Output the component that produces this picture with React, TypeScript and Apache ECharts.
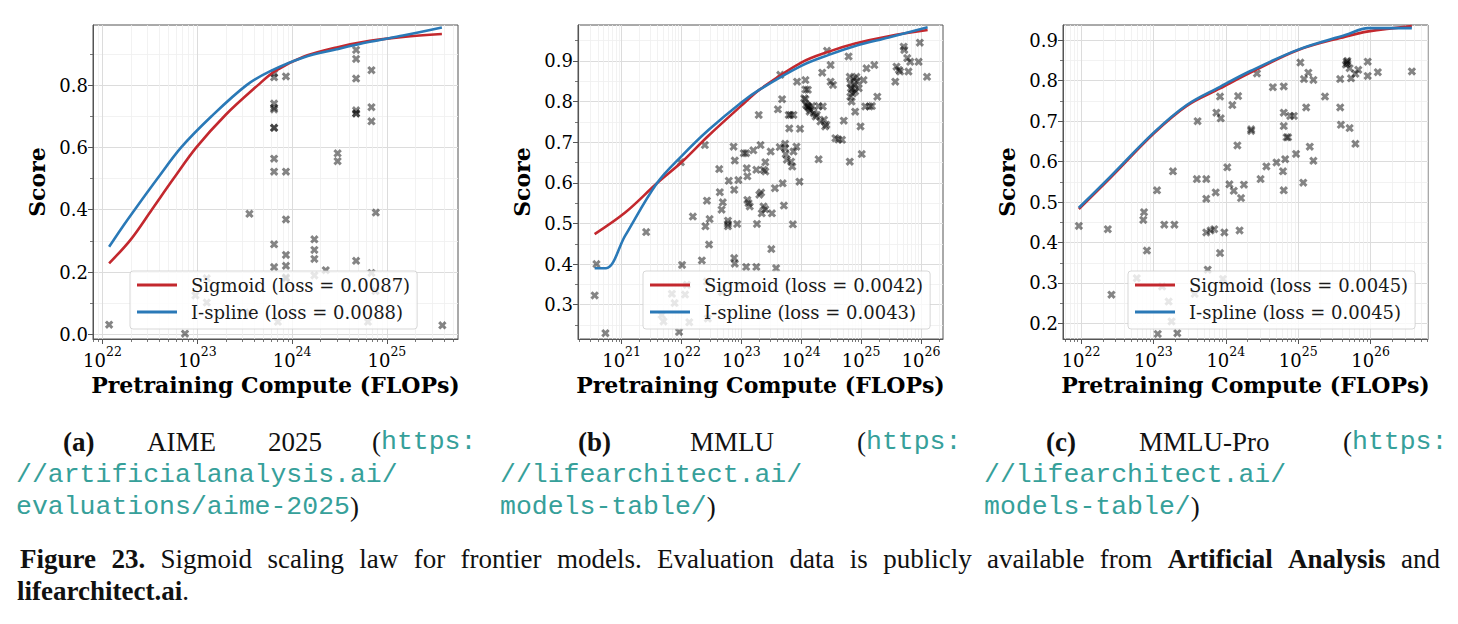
import { useEffect, useRef } from "react";
import * as echarts from "echarts";

type Pt = [number, number];

// Each pair is [log10 of pretraining compute in FLOPs, benchmark score].
const aimePoints: Pt[] = [
  [22.07, 0.031], [22.87, 0.002], [22.98, 0.125], [23.1, 0.18], [23.1, 0.102], [23.55, 0.387], [23.55, 0.07],
  [23.81, 0.838], [23.81, 0.825], [23.81, 0.741], [23.81, 0.727], [23.81, 0.722], [23.81, 0.663], [23.81, 0.663],
  [23.81, 0.564], [23.81, 0.522], [23.81, 0.289], [23.81, 0.216], [23.85, 0.04],
  [23.935, 0.828], [23.935, 0.522], [23.935, 0.369], [23.935, 0.255], [23.935, 0.22], [23.935, 0.183], [23.935, 0.18],
  [24.235, 0.305], [24.235, 0.271], [24.235, 0.242], [24.235, 0.189], [24.355, 0.206],
  [24.48, 0.581], [24.48, 0.556],
  [24.675, 0.913], [24.675, 0.884], [24.675, 0.821], [24.675, 0.719], [24.675, 0.709], [24.675, 0.709], [24.675, 0.236],
  [24.8, 0.04], [24.837, 0.848], [24.837, 0.729], [24.837, 0.684], [24.837, 0.197],
  [24.883, 0.391], [24.88, 0.139], [25.585, 0.029],
];
const aimeSigmoidFit: Pt[] = [
  [22.07, 0.228], [22.3, 0.305], [22.52, 0.4], [22.75, 0.5], [22.99, 0.6], [23.3, 0.705], [23.64, 0.8],
  [23.82, 0.845], [24.12, 0.891], [24.47, 0.921], [24.82, 0.942], [25.17, 0.955], [25.58, 0.964],
];
const aimeISplineFit: Pt[] = [
  [22.07, 0.281], [22.2, 0.34], [22.34, 0.4], [22.58, 0.5], [22.83, 0.6], [23.15, 0.7], [23.52, 0.8],
  [23.77, 0.845], [24.12, 0.889], [24.47, 0.915], [24.82, 0.939], [25.17, 0.959], [25.58, 0.985],
];

const mmluPoints: Pt[] = [
  [20.55, 0.323], [20.58, 0.4], [20.73, 0.23], [21.41, 0.479],
  [21.67, 0.275], [21.7, 0.259], [21.84, 0.327], [21.885, 0.304], [21.96, 0.233], [21.99, 0.651], [22.01, 0.398],
  [22.06, 0.325], [22.09, 0.349], [22.13, 0.257],
  [22.19, 0.517], [22.34, 0.409], [22.39, 0.693], [22.4, 0.493], [22.425, 0.556], [22.425, 0.357], [22.44, 0.266],
  [22.46, 0.448], [22.47, 0.511],
  [22.63, 0.634], [22.64, 0.577], [22.67, 0.534], [22.676, 0.331], [22.69, 0.552],
  [22.776, 0.507], [22.776, 0.499], [22.776, 0.493], [22.79, 0.605],
  [22.87, 0.689], [22.88, 0.583], [22.88, 0.415], [22.89, 0.655], [22.89, 0.401], [22.93, 0.499], [22.95, 0.607],
  [23.04, 0.673], [23.08, 0.673], [23.08, 0.393], [23.09, 0.636], [23.1, 0.616], [23.1, 0.558], [23.12, 0.55], [23.14, 0.542],
  [23.2, 0.68], [23.25, 0.632], [23.25, 0.393], [23.26, 0.499], [23.29, 0.767], [23.3, 0.571], [23.32, 0.693],
  [23.33, 0.576], [23.34, 0.525],
  [23.37, 0.632], [23.37, 0.542], [23.4, 0.628], [23.4, 0.651], [23.4, 0.535], [23.49, 0.677], [23.5, 0.437],
  [23.51, 0.525], [23.56, 0.587], [23.58, 0.39],
  [23.61, 0.781], [23.64, 0.688], [23.65, 0.866], [23.68, 0.806], [23.69, 0.599], [23.71, 0.544], [23.73, 0.696],
  [23.73, 0.685], [23.74, 0.671], [23.76, 0.657],
  [23.79, 0.767], [23.8, 0.734], [23.82, 0.767], [23.83, 0.652], [23.85, 0.64], [23.86, 0.498], [23.87, 0.767],
  [23.87, 0.677], [23.92, 0.689], [23.93, 0.849], [23.97, 0.603], [23.98, 0.733],
  [24.05, 0.808], [24.07, 0.853], [24.07, 0.83], [24.07, 0.806], [24.08, 0.792], [24.1, 0.789], [24.11, 0.829],
  [24.12, 0.788], [24.12, 0.785], [24.14, 0.775], [24.15, 0.78], [24.18, 0.789], [24.21, 0.771], [24.24, 0.763],
  [24.26, 0.767], [24.29, 0.789], [24.29, 0.658], [24.32, 0.751], [24.35, 0.871], [24.36, 0.788], [24.38, 0.755],
  [24.4, 0.739], [24.42, 0.743], [24.43, 0.925],
  [24.49, 0.89], [24.49, 0.849], [24.53, 0.841], [24.57, 0.71], [24.62, 0.707], [24.68, 0.706], [24.71, 0.753],
  [24.79, 0.911], [24.81, 0.861], [24.81, 0.652], [24.82, 0.845], [24.82, 0.812], [24.83, 0.833], [24.84, 0.8],
  [24.85, 0.829], [24.86, 0.82], [24.88, 0.857], [24.89, 0.841], [24.9, 0.775], [24.9, 0.825], [24.92, 0.861],
  [24.93, 0.849], [24.96, 0.833], [24.99, 0.739],
  [25.01, 0.671], [25.04, 0.853], [25.07, 0.788], [25.09, 0.882], [25.14, 0.788], [25.18, 0.789], [25.22, 0.89],
  [25.27, 0.812],
  [25.57, 0.849], [25.59, 0.886], [25.63, 0.878], [25.65, 0.874], [25.71, 0.935], [25.72, 0.927], [25.77, 0.907],
  [25.79, 0.874], [25.82, 0.898], [25.96, 0.898], [25.98, 0.945], [26.1, 0.861],
];
const mmluSigmoidFit: Pt[] = [
  [20.55, 0.474], [21.06, 0.527], [21.59, 0.599], [22.01, 0.652], [22.45, 0.716], [23.0, 0.79], [23.31, 0.83],
  [24.0, 0.896], [24.46, 0.923], [24.9, 0.943], [25.46, 0.961], [26.11, 0.976],
];
const mmluISplineFit: Pt[] = [
  [20.55, 0.39], [20.74, 0.39], [21.06, 0.47], [21.59, 0.599], [22.01, 0.667], [22.45, 0.73], [23.0, 0.798],
  [23.31, 0.83], [24.0, 0.888], [24.46, 0.915], [24.9, 0.937], [25.46, 0.958], [26.11, 0.983],
];

const mmluProPoints: Pt[] = [
  [21.97, 0.441], [22.37, 0.433], [22.42, 0.271], [22.77, 0.312], [22.86, 0.456], [22.87, 0.475], [22.91, 0.38],
  [23.05, 0.529], [23.06, 0.174], [23.12, 0.291], [23.15, 0.444], [23.21, 0.254], [23.25, 0.205], [23.27, 0.576],
  [23.29, 0.444], [23.33, 0.176],
  [23.57, 0.273], [23.6, 0.557], [23.61, 0.7], [23.73, 0.557], [23.73, 0.508], [23.73, 0.425], [23.75, 0.333],
  [23.79, 0.43], [23.84, 0.433], [23.86, 0.524], [23.87, 0.721], [23.92, 0.761], [23.92, 0.374], [23.93, 0.707],
  [23.96, 0.31], [23.98, 0.425],
  [24.02, 0.586], [24.05, 0.544], [24.09, 0.74], [24.11, 0.528], [24.16, 0.64], [24.17, 0.762], [24.19, 0.43],
  [24.21, 0.51], [24.25, 0.543], [24.35, 0.68], [24.35, 0.676], [24.43, 0.818], [24.48, 0.557], [24.56, 0.588],
  [24.65, 0.784], [24.7, 0.598],
  [24.79, 0.576], [24.8, 0.786], [24.8, 0.721], [24.8, 0.688], [24.8, 0.529], [24.82, 0.606], [24.84, 0.66],
  [24.86, 0.66], [24.89, 0.713], [24.94, 0.713], [24.97, 0.619],
  [25.03, 0.845], [25.07, 0.548], [25.08, 0.804], [25.11, 0.734], [25.14, 0.82], [25.16, 0.637], [25.21, 0.602],
  [25.21, 0.802], [25.37, 0.761],
  [25.58, 0.804], [25.58, 0.734], [25.59, 0.691], [25.67, 0.847], [25.68, 0.843], [25.66, 0.84], [25.68, 0.849],
  [25.71, 0.831], [25.71, 0.683], [25.73, 0.806], [25.79, 0.644], [25.79, 0.817], [25.83, 0.827], [25.96, 0.847],
  [25.96, 0.812], [26.1, 0.821], [26.57, 0.823],
];
const mmluProSigmoidFit: Pt[] = [
  [21.97, 0.483], [22.405, 0.56], [23.0, 0.669], [23.46, 0.738], [23.92, 0.781], [24.34, 0.82], [25.0, 0.876],
  [25.65, 0.909], [25.97, 0.922], [26.57, 0.935],
];
const mmluProISplineFit: Pt[] = [
  [21.97, 0.486], [22.405, 0.563], [23.0, 0.671], [23.46, 0.74], [23.92, 0.785], [24.34, 0.824], [25.0, 0.877],
  [25.65, 0.913], [25.97, 0.93], [26.57, 0.93],
];

const aimeLabels = ["Sigmoid (loss = 0.0087)", "I-spline (loss = 0.0088)"];
const mmluLabels = ["Sigmoid (loss = 0.0042)", "I-spline (loss = 0.0043)"];
const mmluProLabels = ["Sigmoid (loss = 0.0045)", "I-spline (loss = 0.0045)"];

const aimeDecades = [22, 23, 24, 25];
const mmluDecades = [21, 22, 23, 24, 25, 26];
const mmluProDecades = [22, 23, 24, 25, 26];

const aimeScoreTicks = [0, 0.2, 0.4, 0.6, 0.8];
const mmluScoreTicks = [0.3, 0.4, 0.5, 0.6, 0.7, 0.8, 0.9];
const mmluProScoreTicks = [0.2, 0.3, 0.4, 0.5, 0.6, 0.7, 0.8, 0.9];

// Figure caption, first line (justified) and second line.
const captionLine1: [string, boolean][] = [
  ["Figure", true], ["23.", true], ["Sigmoid", false], ["scaling", false], ["law", false], ["for", false],
  ["frontier", false], ["models.", false], ["Evaluation", false], ["data", false], ["is", false],
  ["publicly", false], ["available", false], ["from", false], ["Artificial", true], ["Analysis", true], ["and", false],
];

const SERIF = "DejaVu Serif";
const CAPTION_SERIF = "Liberation Serif";
const MONO = "Liberation Mono";
const RED = "#c3282e";
const BLUE = "#2a79b7";
const TEAL = "#36a09a";
const FRAME = "#555555";
const X_MARK = "path://M2.5,0 L5,2.5 L7.5,0 L10,2.5 L7.5,5 L10,7.5 L7.5,10 L5,7.5 L2.5,10 L0,7.5 L2.5,5 L0,2.5 Z";

interface Panel {
  left: number;
  legendLeft: number;
  logMin: number;
  logMax: number;
  yMin: number;
  yMax: number;
  decades: number[];
  scoreTicks: number[];
  points: Pt[];
  sigmoid: Pt[];
  ispline: Pt[];
  labels: string[];
}

const panels: Panel[] = [
  {
    left: 93, legendLeft: 130, logMin: 21.9, logMax: 25.75, yMin: -0.015, yMax: 0.993,
    decades: aimeDecades, scoreTicks: aimeScoreTicks, points: aimePoints,
    sigmoid: aimeSigmoidFit, ispline: aimeISplineFit, labels: aimeLabels,
  },
  {
    left: 578, legendLeft: 643, logMin: 20.272, logMax: 26.367, yMin: 0.2157, yMax: 0.9885,
    decades: mmluDecades, scoreTicks: mmluScoreTicks, points: mmluPoints,
    sigmoid: mmluSigmoidFit, ispline: mmluISplineFit, labels: mmluLabels,
  },
  {
    left: 1063, legendLeft: 1128, logMin: 21.751, logMax: 26.793, yMin: 0.1615, yMax: 0.9378,
    decades: mmluProDecades, scoreTicks: mmluProScoreTicks, points: mmluProPoints,
    sigmoid: mmluProSigmoidFit, ispline: mmluProISplineFit, labels: mmluProLabels,
  },
];

// Minor log ticks at 2..9 x 10^d inside the visible range.
function minorLogTicks(lo: number, hi: number): number[] {
  const out: number[] = [];
  for (let d = Math.floor(lo); d <= Math.ceil(hi); d++) {
    for (let k = 2; k <= 9; k++) {
      const lg = d + Math.log10(k);
      if (lg > lo && lg < hi) out.push(k * 10 ** d);
    }
  }
  return out;
}

// Minor score ticks halfway between the major ones.
function minorScoreTicks(ticks: number[], lo: number, hi: number): number[] {
  const step = ticks[1] - ticks[0];
  const out: number[] = [];
  for (let i = -1; i < ticks.length; i++) {
    const v = Math.round((ticks[0] + (i + 0.5) * step) * 1000) / 1000;
    if (v > lo && v < hi) out.push(v);
  }
  return out;
}

const toFlops = (pts: Pt[]) => pts.map(([lg, s]) => [10 ** lg, s]);

let measureCtx: CanvasRenderingContext2D | null = null;
function textWidth(text: string, font: string): number {
  if (!measureCtx) measureCtx = document.createElement("canvas").getContext("2d");
  if (!measureCtx) return text.length * 12;
  measureCtx.font = font;
  return measureCtx.measureText(text).width;
}

function buildOption() {
  const grid: any[] = [];
  const xAxis: any[] = [];
  const yAxis: any[] = [];
  const series: any[] = [];
  const legend: any[] = [];

  panels.forEach((p, i) => {
    grid.push({
      left: p.left, top: 25, width: 365, height: 314,
      show: true, borderColor: FRAME, borderWidth: 1, backgroundColor: "transparent",
      containLabel: false, outerBoundsMode: "none",
    });

    const xMin = 10 ** p.logMin;
    const xMax = 10 ** p.logMax;
    const majorX = p.decades.map((d) => 10 ** d);

    xAxis.push({
      type: "log", logBase: 10, gridIndex: i, position: "bottom", min: xMin, max: xMax,
      name: "Pretraining Compute (FLOPs)", nameLocation: "middle", nameGap: 28,
      nameTextStyle: { fontFamily: SERIF, fontWeight: "bold", fontSize: 22, color: "#000" },
      axisLine: { show: true, onZero: false, lineStyle: { color: FRAME, width: 1 } },
      axisTick: { show: true, customValues: majorX, length: 5, lineStyle: { color: FRAME, width: 1 } },
      axisLabel: {
        show: true, customValues: majorX, margin: 6,
        formatter: (v: number) => `{b|10}{s|${Math.round(Math.log10(v))}}`,
        rich: {
          b: { fontFamily: SERIF, fontSize: 18, color: "#000", lineHeight: 24, verticalAlign: "bottom" },
          s: { fontFamily: SERIF, fontSize: 12.5, color: "#000", lineHeight: 14, verticalAlign: "top" },
        },
      },
      splitLine: { show: true, lineStyle: { color: "#dcdcdc", width: 1 } },
    });
    xAxis.push({
      type: "log", logBase: 10, gridIndex: i, position: "bottom", min: xMin, max: xMax,
      axisLine: { show: false, onZero: false },
      axisTick: {
        show: true, customValues: minorLogTicks(p.logMin, p.logMax), length: 3,
        lineStyle: { color: FRAME, width: 0.8 },
      },
      axisLabel: { show: false },
      splitLine: { show: true, lineStyle: { color: "#efefef", width: 0.8 } },
    });

    yAxis.push({
      type: "value", gridIndex: i, position: "left", min: p.yMin, max: p.yMax,
      name: "Score", nameLocation: "middle", nameGap: 45,
      nameTextStyle: { fontFamily: SERIF, fontWeight: "bold", fontSize: 22, color: "#000" },
      axisLine: { show: true, onZero: false, lineStyle: { color: FRAME, width: 1 } },
      axisTick: { show: true, customValues: p.scoreTicks, length: 5, lineStyle: { color: FRAME, width: 1 } },
      axisLabel: {
        show: true, customValues: p.scoreTicks, margin: 5,
        formatter: (v: number) => v.toFixed(1),
        fontFamily: SERIF, fontSize: 18, color: "#000",
      },
      splitLine: { show: true, lineStyle: { color: "#dcdcdc", width: 1 } },
    });
    yAxis.push({
      type: "value", gridIndex: i, position: "left", min: p.yMin, max: p.yMax,
      axisLine: { show: false, onZero: false },
      axisTick: {
        show: true, customValues: minorScoreTicks(p.scoreTicks, p.yMin, p.yMax), length: 3,
        lineStyle: { color: FRAME, width: 0.8 },
      },
      axisLabel: { show: false },
      splitLine: { show: true, lineStyle: { color: "#efefef", width: 0.8 } },
    });

    series.push({
      type: "scatter", xAxisIndex: 2 * i, yAxisIndex: 2 * i, data: toFlops(p.points),
      symbol: X_MARK, symbolSize: 8.5, itemStyle: { color: "rgba(0,0,0,0.6)" }, silent: true, z: 2,
    });
    series.push({
      type: "line", name: p.labels[0], xAxisIndex: 2 * i, yAxisIndex: 2 * i, data: toFlops(p.sigmoid),
      showSymbol: false, symbol: "none", smooth: 0.35,
      lineStyle: { color: RED, width: 2.6 }, itemStyle: { color: RED }, silent: true, z: 3,
    });
    series.push({
      type: "line", name: p.labels[1], xAxisIndex: 2 * i, yAxisIndex: 2 * i, data: toFlops(p.ispline),
      showSymbol: false, symbol: "none", smooth: 0.35,
      lineStyle: { color: BLUE, width: 2.6 }, itemStyle: { color: BLUE }, silent: true, z: 4,
    });

    legend.push({
      show: true, orient: "vertical", left: p.legendLeft, top: 271,
      padding: [5, 7, 8, 7],
      itemWidth: 49, itemHeight: 3, itemGap: 9,
      icon: "path://M0,0H40V3H0Z M49,0L49,3",
      itemStyle: { borderWidth: 0 },
      formatter: (name: string) => `{t|${name}}`,
      textStyle: {
        fontFamily: SERIF, fontSize: 18, color: "#1a1a1a", lineHeight: 18,
        rich: { t: { fontFamily: SERIF, fontSize: 18, color: "#1a1a1a", lineHeight: 18 } },
      },
      backgroundColor: "rgba(255,255,255,0.8)",
      borderColor: "rgba(205,205,205,0.8)", borderWidth: 1, borderRadius: 3,
      selectedMode: false,
      data: [p.labels[0], p.labels[1]],
    });
  });

  const CAP_SIZE = 27;
  const word = (x: number, y: number, text: string, bold = false) => ({
    type: "text", x, y, silent: true,
    style: {
      text, fontFamily: CAPTION_SERIF, fontSize: CAP_SIZE, fontWeight: bold ? "bold" : "normal",
      fill: "#111", verticalAlign: "middle",
    },
  });
  const rich = (x: number, y: number, text: string) => ({
    type: "text", x, y, silent: true,
    style: {
      text, verticalAlign: "middle",
      rich: {
        u: { fontFamily: MONO, fontSize: 26.5, fill: TEAL },
        p: { fontFamily: CAPTION_SERIF, fontSize: CAP_SIZE, fill: "#111" },
        bb: { fontFamily: CAPTION_SERIF, fontSize: CAP_SIZE, fontWeight: "bold", fill: "#111" },
      },
    },
  });

  // Justify the first caption line between its two margins.
  const lineStart = 20;
  const lineEnd = 1440;
  const widths = captionLine1.map(([t, b]) =>
    textWidth(t, `${b ? "bold " : ""}${CAP_SIZE}px "${CAPTION_SERIF}"`),
  );
  const total = widths.reduce((a, w) => a + w, 0);
  const gap = (lineEnd - lineStart - total) / (captionLine1.length - 1);
  const captionWords: any[] = [];
  let cx = lineStart;
  captionLine1.forEach(([t, b], k) => {
    captionWords.push(word(cx, 559, t, b));
    cx += widths[k] + gap;
  });

  const graphicElements = [
    word(63, 442, "(a)", true), word(147, 442, "AIME"), word(268, 442, "2025"), rich(372, 442, "{p|(}{u|https:}"),
    rich(16, 475, "{u|//artificialanalysis.ai/}"),
    rich(16, 507, "{u|evaluations/aime-2025}{p|)}"),
    word(578, 442, "(b)", true), word(690, 442, "MMLU"), rich(857, 442, "{p|(}{u|https:}"),
    rich(500, 475, "{u|//lifearchitect.ai/}"),
    rich(500, 507, "{u|models-table/}{p|)}"),
    word(1046, 442, "(c)", true), word(1139, 442, "MMLU-Pro"), rich(1343, 442, "{p|(}{u|https:}"),
    rich(984, 475, "{u|//lifearchitect.ai/}"),
    rich(984, 507, "{u|models-table/}{p|)}"),
    ...captionWords,
    rich(17, 591, "{bb|lifearchitect.ai}{p|.}"),
  ];

  return {
    animation: false,
    backgroundColor: "#ffffff",
    textStyle: { fontFamily: SERIF },
    grid, xAxis, yAxis, series, legend,
    graphic: { elements: graphicElements },
  };
}

export default function App() {
  const ref = useRef<HTMLDivElement>(null);
  useEffect(() => {
    if (!ref.current) return;
    const chart = echarts.init(ref.current, undefined, { renderer: "svg" });
    chart.setOption(buildOption() as any);
    return () => chart.dispose();
  }, []);
  return (
    <div
      ref={ref}
      style={{ position: "absolute", left: 0, top: 0, width: 1458, height: 624, background: "#fff" }}
    />
  );
}
